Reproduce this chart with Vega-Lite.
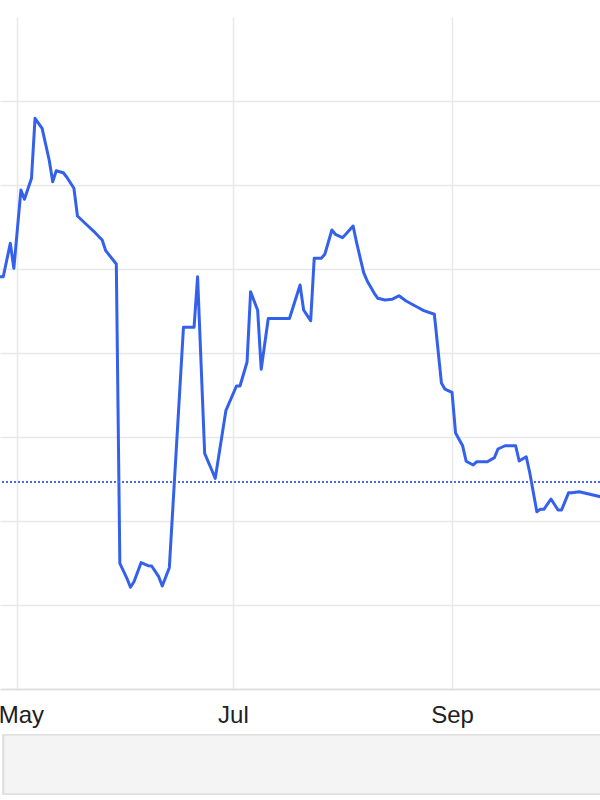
{
  "$schema": "https://vega.github.io/schema/vega-lite/v6.json",
  "width": 600,
  "height": 672,
  "autosize": {"type": "none"},
  "padding": {"left": 0, "top": 17, "right": 0, "bottom": 111},
  "background": "white",
  "config": {"view": {"stroke": null}},
  "datasets": {
    "prices": [
      {"date": "2023-04-26", "price": 149.08},
      {"date": "2023-04-27", "price": 149.08},
      {"date": "2023-04-29", "price": 153.06},
      {"date": "2023-04-30", "price": 150.08},
      {"date": "2023-05-02", "price": 159.40},
      {"date": "2023-05-03", "price": 158.30},
      {"date": "2023-05-05", "price": 160.80},
      {"date": "2023-05-06", "price": 167.94},
      {"date": "2023-05-08", "price": 166.75},
      {"date": "2023-05-10", "price": 162.98},
      {"date": "2023-05-11", "price": 160.39},
      {"date": "2023-05-12", "price": 161.70},
      {"date": "2023-05-14", "price": 161.46},
      {"date": "2023-05-15", "price": 160.92},
      {"date": "2023-05-17", "price": 159.61},
      {"date": "2023-05-18", "price": 156.31},
      {"date": "2023-05-20", "price": 155.51},
      {"date": "2023-05-21", "price": 155.12},
      {"date": "2023-05-23", "price": 154.32},
      {"date": "2023-05-25", "price": 153.45},
      {"date": "2023-05-26", "price": 152.18},
      {"date": "2023-05-29", "price": 150.60},
      {"date": "2023-05-30", "price": 114.96},
      {"date": "2023-06-01", "price": 113.18},
      {"date": "2023-06-02", "price": 112.11},
      {"date": "2023-06-03", "price": 112.77},
      {"date": "2023-06-05", "price": 115.04},
      {"date": "2023-06-07", "price": 114.68},
      {"date": "2023-06-08", "price": 114.64},
      {"date": "2023-06-10", "price": 113.37},
      {"date": "2023-06-11", "price": 112.26},
      {"date": "2023-06-13", "price": 114.44},
      {"date": "2023-06-17", "price": 143.06},
      {"date": "2023-06-20", "price": 143.06},
      {"date": "2023-06-21", "price": 149.08},
      {"date": "2023-06-23", "price": 128.06},
      {"date": "2023-06-25", "price": 126.07},
      {"date": "2023-06-26", "price": 125.08},
      {"date": "2023-06-29", "price": 133.13},
      {"date": "2023-07-02", "price": 136.07},
      {"date": "2023-07-03", "price": 136.07},
      {"date": "2023-07-05", "price": 138.93},
      {"date": "2023-07-06", "price": 147.30},
      {"date": "2023-07-08", "price": 145.08},
      {"date": "2023-07-09", "price": 138.07},
      {"date": "2023-07-11", "price": 144.11},
      {"date": "2023-07-17", "price": 144.11},
      {"date": "2023-07-20", "price": 148.10},
      {"date": "2023-07-21", "price": 145.12},
      {"date": "2023-07-23", "price": 143.85},
      {"date": "2023-07-24", "price": 151.27},
      {"date": "2023-07-26", "price": 151.27},
      {"date": "2023-07-27", "price": 151.75},
      {"date": "2023-07-29", "price": 154.64},
      {"date": "2023-07-30", "price": 154.13},
      {"date": "2023-08-01", "price": 153.73},
      {"date": "2023-08-02", "price": 154.17},
      {"date": "2023-08-04", "price": 155.12},
      {"date": "2023-08-05", "price": 153.13},
      {"date": "2023-08-07", "price": 149.56},
      {"date": "2023-08-08", "price": 148.57},
      {"date": "2023-08-10", "price": 147.11},
      {"date": "2023-08-11", "price": 146.51},
      {"date": "2023-08-13", "price": 146.31},
      {"date": "2023-08-15", "price": 146.39},
      {"date": "2023-08-17", "price": 146.82},
      {"date": "2023-08-19", "price": 146.19},
      {"date": "2023-08-22", "price": 145.51},
      {"date": "2023-08-24", "price": 145.04},
      {"date": "2023-08-27", "price": 144.61},
      {"date": "2023-08-29", "price": 136.43},
      {"date": "2023-08-30", "price": 135.69},
      {"date": "2023-09-01", "price": 135.30},
      {"date": "2023-09-02", "price": 130.48},
      {"date": "2023-09-04", "price": 128.95},
      {"date": "2023-09-05", "price": 127.11},
      {"date": "2023-09-07", "price": 126.67},
      {"date": "2023-09-08", "price": 127.06},
      {"date": "2023-09-11", "price": 127.06},
      {"date": "2023-09-13", "price": 127.54},
      {"date": "2023-09-14", "price": 128.57},
      {"date": "2023-09-16", "price": 128.96},
      {"date": "2023-09-19", "price": 128.96},
      {"date": "2023-09-20", "price": 127.14},
      {"date": "2023-09-22", "price": 127.65},
      {"date": "2023-09-23", "price": 125.75},
      {"date": "2023-09-25", "price": 121.11},
      {"date": "2023-09-26", "price": 121.39},
      {"date": "2023-09-27", "price": 121.39},
      {"date": "2023-09-29", "price": 122.62},
      {"date": "2023-10-01", "price": 121.31},
      {"date": "2023-10-02", "price": 121.31},
      {"date": "2023-10-04", "price": 123.37},
      {"date": "2023-10-05", "price": 123.37},
      {"date": "2023-10-07", "price": 123.49},
      {"date": "2023-10-13", "price": 122.89},
      {"date": "2023-10-14", "price": 122.80}
    ]
  },
  "data": {"name": "prices"},
  "layer": [
    {
      "mark": {"type": "rect", "fill": "#f4f4f4", "stroke": "#e0e0e0", "strokeWidth": 1.5, "clip": false},
      "encoding": {
        "x": {"datum": {"year": 2023, "month": 4, "date": 27, "hours": 3, "utc": true}, "type": "temporal"},
        "x2": {"datum": {"year": 2023, "month": 10, "date": 25, "utc": true}},
        "y": {"datum": 94.52, "type": "quantitative"},
        "y2": {"datum": 87.5}
      }
    },
    {
      "mark": {"type": "line", "color": "#3461eb", "strokeWidth": 3, "clip": true, "strokeJoin": "round"},
      "encoding": {
        "x": {
          "field": "date",
          "type": "temporal",
          "scale": {
            "type": "utc",
            "domain": [
              {"year": 2023, "month": 4, "date": 26, "hours": 2, "utc": true},
              {"year": 2023, "month": 10, "date": 12, "hours": 21, "utc": true}
            ]
          },
          "axis": {
            "title": null,
            "values": [
              {"year": 2023, "month": 5, "date": 1, "utc": true},
              {"year": 2023, "month": 7, "date": 1, "utc": true},
              {"year": 2023, "month": 9, "date": 1, "utc": true}
            ],
            "format": "%b",
            "grid": true,
            "gridColor": "#e8e8e8",
            "gridWidth": 1.5,
            "ticks": false,
            "domain": true,
            "domainColor": "#e0e0e0",
            "domainWidth": 2,
            "labelFont": "Liberation Sans",
            "labelFontSize": 24,
            "labelColor": "#222222",
            "labelPadding": 14,
            "labelFlush": false,
            "labelOverlap": false,
            "labelOffset": {"condition": {"test": "utcmonth(datum.value) == 4", "value": 3.5}, "value": 0}
          }
        },
        "y": {
          "field": "price",
          "type": "quantitative",
          "scale": {"domain": [100, 180], "nice": false, "zero": false},
          "axis": {
            "title": null,
            "values": [110, 120, 130, 140, 150, 160, 170],
            "labels": false,
            "ticks": false,
            "domain": false,
            "grid": true,
            "gridColor": "#e8e8e8",
            "gridWidth": 1.5
          }
        }
      }
    },
    {
      "mark": {"type": "rule", "color": "#4a6ee0", "strokeWidth": 1.5, "strokeDash": [2, 2]},
      "encoding": {
        "y": {"datum": 124.64, "type": "quantitative"}
      }
    }
  ]
}
